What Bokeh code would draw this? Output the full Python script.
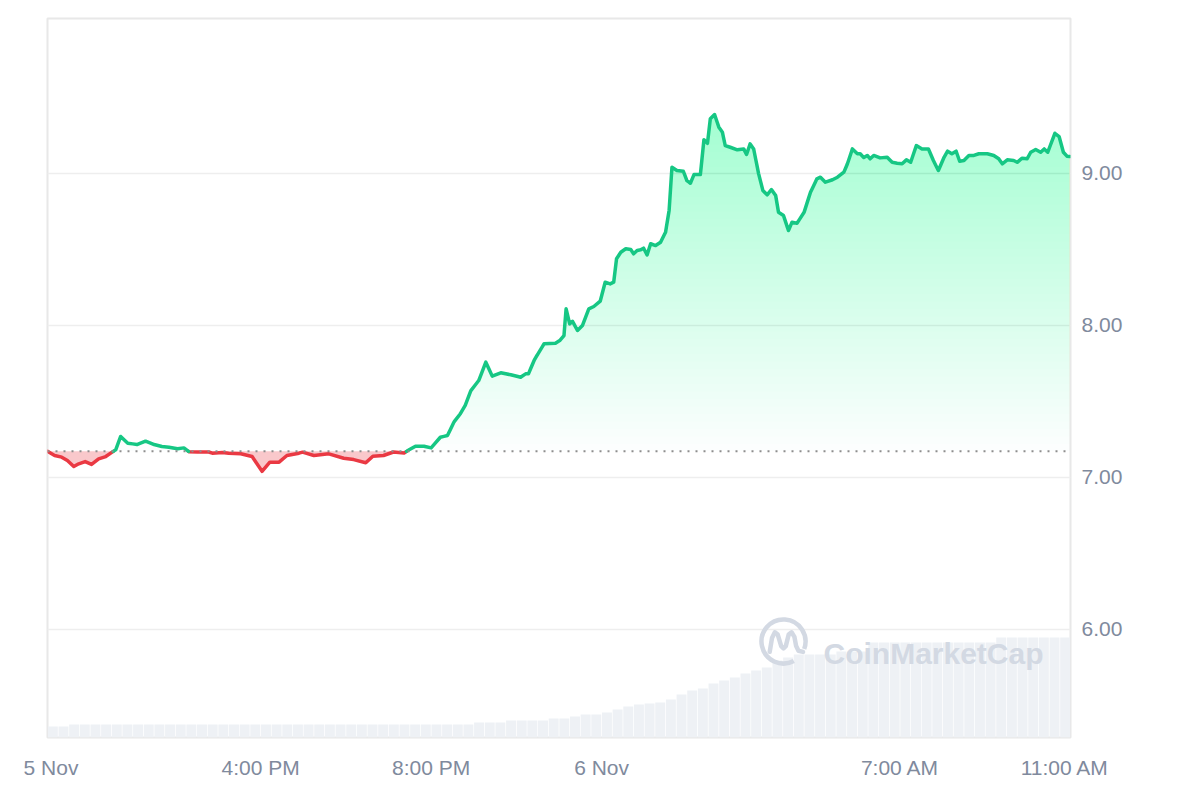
import numpy as np
from bokeh.plotting import figure
from bokeh.models import Range1d, FixedTicker, Label, Span, NumeralTickFormatter
from bokeh.embed import file_html
from bokeh.resources import INLINE

# ---------------- data ----------------
# minutes since 5 Nov 11:00 AM
minutes = [0, 10, 20, 28, 37, 44, 53, 62, 72, 82, 91, 96, 103, 113, 126, 138, 150, 161, 171, 183,
           192, 199, 211, 227, 232, 246, 255, 272, 288, 302, 313, 326, 337, 354, 359, 375, 396, 417, 431, 448,
           458, 473, 487, 502, 509, 518, 530, 540, 553, 563, 572, 581, 588, 596, 607, 617, 626, 638, 652, 666,
           673, 677, 685, 689, 699, 715, 721, 727, 730, 735, 739, 746, 753, 762, 769, 778, 785, 792, 797, 801,
           807, 814, 821, 825, 830, 835, 839, 844, 849, 856, 863, 870, 875, 879, 886, 895, 900, 905, 910, 919,
           924, 929, 933, 939, 945, 950, 954, 961, 971, 980, 984, 989, 994, 1001, 1007, 1013, 1019, 1025, 1029, 1036,
           1043, 1048, 1055, 1065, 1074, 1083, 1088, 1095, 1105, 1112, 1121, 1126, 1133, 1140, 1144, 1149, 1154, 1158, 1163, 1172,
           1182, 1189, 1196, 1203, 1209, 1215, 1223, 1231, 1240, 1247, 1254, 1262, 1267, 1273, 1279, 1284, 1290, 1297, 1304, 1311,
           1323, 1332, 1339, 1344, 1351, 1360, 1365, 1372, 1379, 1384, 1391, 1398, 1403, 1408, 1418, 1424, 1430, 1435, 1439]

prices = [7.170, 7.143, 7.132, 7.110, 7.070, 7.088, 7.103, 7.084, 7.121, 7.136, 7.165, 7.180, 7.268, 7.224, 7.215, 7.237, 7.215, 7.202, 7.197, 7.187,
          7.193, 7.168, 7.166, 7.166, 7.158, 7.162, 7.158, 7.154, 7.136, 7.039, 7.099, 7.099, 7.143, 7.158, 7.165, 7.143, 7.154, 7.125, 7.116, 7.095,
          7.138, 7.143, 7.166, 7.160, 7.180, 7.204, 7.204, 7.193, 7.263, 7.274, 7.362, 7.417, 7.472, 7.570, 7.636, 7.757, 7.665, 7.687, 7.674, 7.658,
          7.680, 7.680, 7.768, 7.801, 7.878, 7.882, 7.899, 7.932, 8.108, 8.009, 8.026, 7.965, 7.998, 8.108, 8.123, 8.158, 8.283, 8.272, 8.283, 8.437,
          8.480, 8.503, 8.498, 8.470, 8.492, 8.496, 8.507, 8.463, 8.536, 8.524, 8.546, 8.612, 8.755, 9.039, 9.018, 9.013, 8.952, 8.934, 8.991, 8.991,
          9.220, 9.197, 9.358, 9.386, 9.303, 9.270, 9.182, 9.171, 9.154, 9.160, 9.123, 9.193, 9.160, 8.996, 8.886, 8.858, 8.893, 8.853, 8.743, 8.722,
          8.623, 8.678, 8.671, 8.743, 8.875, 8.963, 8.974, 8.941, 8.957, 8.974, 9.007, 9.062, 9.160, 9.128, 9.128, 9.103, 9.117, 9.095, 9.117, 9.101,
          9.105, 9.072, 9.066, 9.062, 9.088, 9.072, 9.182, 9.160, 9.160, 9.084, 9.018, 9.105, 9.145, 9.128, 9.145, 9.079, 9.084, 9.117, 9.117, 9.128,
          9.128, 9.117, 9.095, 9.062, 9.088, 9.084, 9.072, 9.099, 9.095, 9.138, 9.156, 9.138, 9.160, 9.138, 9.263, 9.241, 9.138, 9.112, 9.110]

# volume (millions), one bar per 15 minutes
vol_minutes = list(range(0, 1440, 15))
volumes = [1.1, 1.1, 1.3, 1.3, 1.3, 1.3, 1.3, 1.3, 1.3, 1.3, 1.3, 1.3, 1.3, 1.3, 1.3, 1.3, 1.3, 1.3, 1.3, 1.3,
           1.3, 1.3, 1.3, 1.3, 1.3, 1.3, 1.3, 1.3, 1.3, 1.3, 1.3, 1.3, 1.3, 1.3, 1.3, 1.3, 1.3, 1.3, 1.3, 1.3,
           1.5, 1.5, 1.5, 1.7, 1.7, 1.7, 1.7, 1.9, 1.9, 2.1, 2.3, 2.3, 2.5, 2.8, 3.1, 3.3, 3.4, 3.5, 3.8, 4.3,
           4.7, 4.9, 5.4, 5.7, 6.0, 6.4, 6.7, 7.0, 7.7, 8.0, 8.3, 8.3, 8.3, 8.3, 8.6, 8.6, 8.6, 9.5, 9.5, 9.5,
           9.5, 9.5, 9.5, 9.5, 9.5, 9.5, 9.5, 9.5, 9.5, 10.0, 10.0, 10.0, 10.0, 10.0, 10.0, 10.0]

x_tick_minutes = [5, 300, 540, 780, 1200, 1432]
x_tick_labels = ["5 Nov", "4:00 PM", "8:00 PM", "6 Nov", "7:00 AM", "11:00 AM"]
y_ticks = [6, 7, 8, 9]

# ---------------- styling ----------------
GREEN = "#16c784"
RED = "#ea3943"
TXT = "#808a9d"
WM = "#d3d9e3"
FRAME_L, FRAME_T = 47, 18
FRAME_W, FRAME_H = 1023, 719
X0, X1 = 0, 1440
Y0, Y1 = 5.2875, 10.018

base = prices[0]
t = np.array(minutes, dtype=float)
pr = np.array(prices, dtype=float)
top = pr.max()

nb = 45
levels = np.linspace(base, top, nb + 1)


def densify(tt, yy, lv):
    xs = [tt[0]]
    ys = [yy[0]]
    for i in range(1, len(tt)):
        ya, yb = yy[i - 1], yy[i]
        ta, tb = tt[i - 1], tt[i]
        cr = []
        for L in lv:
            if (ya - L) * (yb - L) < 0:
                f = (L - ya) / (yb - ya)
                cr.append((ta + f * (tb - ta), L))
        cr.sort()
        for c in cr:
            xs.append(c[0])
            ys.append(c[1])
        xs.append(tb)
        ys.append(yb)
    return np.array(xs), np.array(ys)


xs, ys = densify(t, pr, list(levels))

p = figure(width=1192, height=792, x_range=Range1d(X0, X1), y_range=Range1d(Y0, Y1),
           output_backend="svg", toolbar_location=None, y_axis_location="right",
           min_border_left=FRAME_L, min_border_right=122, min_border_top=FRAME_T, min_border_bottom=55,
           background_fill_color="white", border_fill_color="white")
p.outline_line_color = "#e8e8e8"
p.outline_line_width = 2
p.xgrid.visible = False
p.ygrid.grid_line_color = "#eeeeee"
p.ygrid.grid_line_width = 1.5

# volume bars
p.extra_y_ranges = {"vol": Range1d(0, 71.9)}
p.vbar(x=[m + 7.5 for m in vol_minutes], width=14.0, top=volumes, bottom=0, y_range_name="vol",
       fill_color="#eef1f5", line_color=None)

# watermark
sx = (X1 - X0) / FRAME_W
sy = (Y1 - Y0) / FRAME_H


def px2x(px):
    return X0 + (px - FRAME_L) * sx


def px2y(py):
    return Y1 - (py - FRAME_T) * sy


cx, cy = 783, 641
p.arc(x=[px2x(cx)], y=[px2y(cy)], radius=22, radius_units="screen",
      start_angle=-0.35, end_angle=5.2, line_width=4.5, line_color=WM)
wave = [(-12, 9), (-10, -3), (-7.5, -8), (-5, -6), (-2, 4), (0, 6), (2, 4), (4.5, -6), (7, -8), (9.5, -4), (11, 4), (13, 8), (17, 9)]
p.line(x=[px2x(cx + 1.15 * a) for a, b in wave], y=[px2y(cy + 1.15 * b) for a, b in wave],
       line_width=4.5, line_color=WM, line_join="round", line_cap="round")
p.add_layout(Label(x=px2x(823), y=px2y(653), text="CoinMarketCap", text_font="Liberation Sans",
                   text_font_style="bold", text_font_size="30px", text_color=WM,
                   text_align="left", text_baseline="alphabetic"))

# green gradient fill (stacked translucent layers)
O_prev = 0.0
for k in range(nb):
    O = 0.01 + 0.27 * (k + 0.5) / nb
    a = 1 - (1 - O) / (1 - O_prev)
    O_prev = O
    L = levels[k]
    p.varea(x=xs, y1=L, y2=np.maximum(ys, L), fill_color=GREEN, fill_alpha=a)

# red fill below baseline
p.varea(x=xs, y1=np.minimum(ys, base), y2=base, fill_color=RED, fill_alpha=0.28)

# baseline
p.add_layout(Span(location=base, dimension="width", line_color="#8e8e8e", line_dash="2 6", line_width=2))

# price line, coloured by side of the baseline
eps = 1e-9
green_y = np.where(ys >= base - eps, ys, np.nan)
red_y = np.where(ys <= base + eps, ys, np.nan)
p.line(x=xs, y=red_y, line_color=RED, line_width=3.5, line_join="round", line_cap="round")
p.line(x=xs, y=green_y, line_color=GREEN, line_width=3.5, line_join="round", line_cap="round")

# axes
p.xaxis.ticker = FixedTicker(ticks=x_tick_minutes)
p.xaxis.major_label_overrides = {k: v for k, v in zip(x_tick_minutes, x_tick_labels)}
p.yaxis.ticker = FixedTicker(ticks=y_ticks)
p.ygrid.ticker = FixedTicker(ticks=y_ticks)
p.yaxis.formatter = NumeralTickFormatter(format="0.00")
for ax in (p.xaxis[0], p.yaxis[0]):
    ax.axis_line_color = None
    ax.major_tick_line_color = None
    ax.minor_tick_line_color = None
    ax.major_label_text_font = "Liberation Sans"
    ax.major_label_text_font_size = "21px"
    ax.major_label_text_color = TXT
p.xaxis.major_label_standoff = 12
p.yaxis.major_label_standoff = 5

open("out.html", "w").write(file_html(p, INLINE))
